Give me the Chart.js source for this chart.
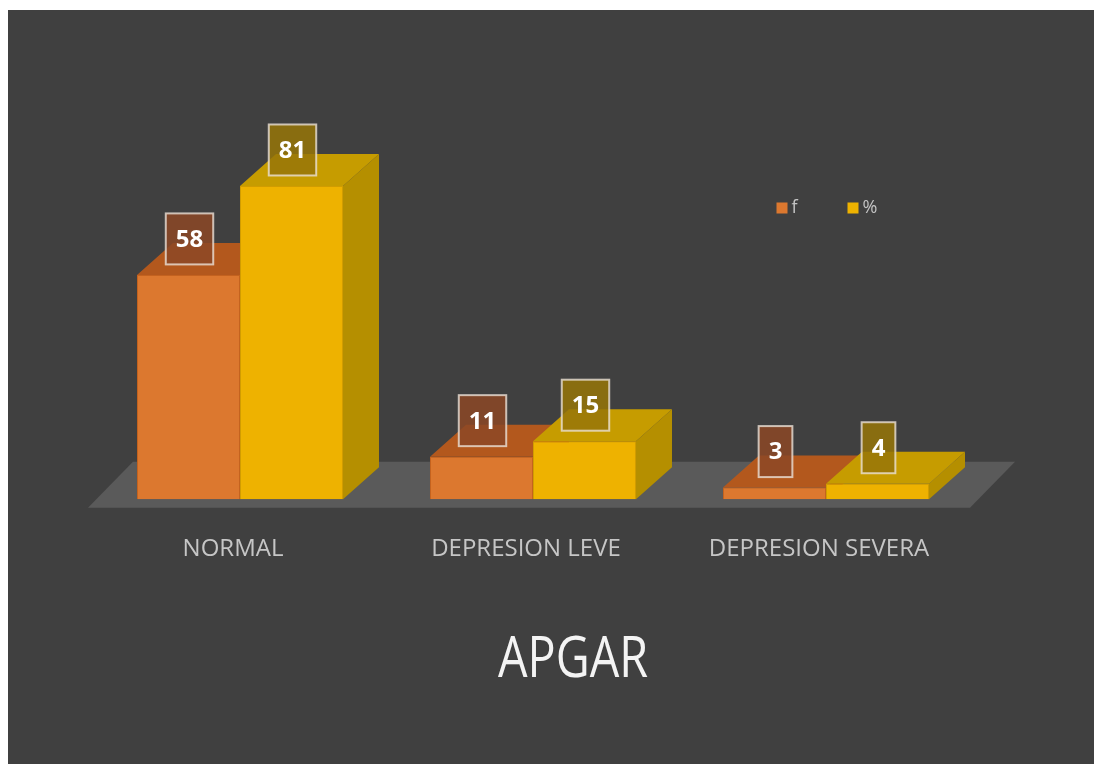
<!DOCTYPE html>
<html>
<head>
<meta charset="utf-8">
<script src="https://cdn.jsdelivr.net/npm/chart.js@4.4.1/dist/chart.umd.min.js"></script>
<style>
    html, body { margin: 0; padding: 0; background: #ffffff; }
    .wrapper { position: absolute; left: 8px; top: 10px; width: 1086px; height: 754px; background: #404040; }
    canvas { display: block; }
</style>
</head>
<body>
<div class="wrapper">
    <canvas id="apgar_chart" width="1086" height="754"></canvas>
</div>
<script>
const categories = ['NORMAL', 'DEPRESION LEVE', 'DEPRESION SEVERA'];
const seriesNames = ['f', '%'];
const freqValues = [58, 11, 3];
const pctValues = [81, 15, 4];
const chartTitle = 'APGAR';

// depth of the fake 3d boxes
const DEPTH = { dx: 36, dy: -32 };

const COLORS = {
    orange: { front: '#dc782f', top: '#b3581d', side: '#a9521b', edge: '#c4621f', box: 'rgba(140, 72, 38, 0.85)' },
    yellow: { front: '#eeb200', top: '#c69c00', side: '#b58f00', edge: '#d19c00', box: 'rgba(150, 118, 8, 0.85)' }
};

const poly = (ctx, pts, fill) => {
    ctx.beginPath();
    ctx.moveTo(pts[0][0], pts[0][1]);
    for (let i = 1; i < pts.length; i++) {
        ctx.lineTo(pts[i][0], pts[i][1]);
    }
    ctx.closePath();
    ctx.fillStyle = fill;
    ctx.fill();
};

// floor slab under the bars
const floorPlugin = {
    id: 'floor',
    beforeDatasetsDraw(chart) {
        const ctx = chart.ctx;
        const xs = chart.scales.x;
        const zero = chart.scales.y.getPixelForValue(0);
        const l = xs.left - 5.5;
        const r = xs.right - 2.5;
        ctx.save();
        poly(ctx, [[l, zero + 8.5], [r, zero + 8.5], [r + 45, zero - 37.5], [l + 45, zero - 37.5]], '#5a5a5a');
        ctx.restore();
    }
};

// chart.js paints the last dataset first, so repaint every bar here
// in dataset order: side + top faces, then the front again
const boxPlugin = {
    id: 'box3d',
    afterDatasetsDraw(chart) {
        const ctx = chart.ctx;
        ctx.save();
        chart.data.datasets.forEach((ds, di) => {
            const c = ds.faceColors;
            chart.getDatasetMeta(di).data.forEach(bar => {
                const { x, y, base, width } = bar.getProps(['x', 'y', 'base', 'width'], true);
                const l = x - width / 2;
                const r = x + width / 2;
                poly(ctx, [[r, y], [r + DEPTH.dx, y + DEPTH.dy], [r + DEPTH.dx, base + DEPTH.dy], [r, base]], c.side);
                poly(ctx, [[l, y], [r, y], [r + DEPTH.dx, y + DEPTH.dy], [l + DEPTH.dx, y + DEPTH.dy]], c.top);
                bar.draw(ctx);
            });
        });
        ctx.restore();
    }
};

// framed value labels above each bar
const valuePlugin = {
    id: 'valueBoxes',
    afterDatasetsDraw(chart) {
        const ctx = chart.ctx;
        ctx.save();
        ctx.font = 'bold 24px "Open Sans", sans-serif';
        ctx.textAlign = 'center';
        ctx.textBaseline = 'middle';
        chart.data.datasets.forEach((ds, di) => {
            const meta = chart.getDatasetMeta(di);
            meta.data.forEach((bar, i) => {
                const { x, y } = bar.getProps(['x', 'y'], true);
                const txt = String(ds.data[i]);
                const w = ctx.measureText(txt).width + 20;
                const h = 51;
                const cx = x + 1;
                const cy = y - 36;
                ctx.fillStyle = ds.faceColors.box;
                ctx.fillRect(cx - w / 2, cy - h / 2, w, h);
                ctx.strokeStyle = 'rgba(235, 225, 215, 0.8)';
                ctx.lineWidth = 2;
                ctx.strokeRect(cx - w / 2, cy - h / 2, w, h);
                ctx.fillStyle = '#ffffff';
                ctx.fillText(txt, cx, cy + 1);
            });
        });
        ctx.restore();
    }
};

// small legend in the upper right of the plot, title under the axis
const extrasPlugin = {
    id: 'extras',
    afterDraw(chart) {
        const ctx = chart.ctx;
        const area = chart.chartArea;
        let lx = area.left + 683;
        const ly = area.top + 95.5;
        ctx.save();
        ctx.font = '18px "Open Sans", sans-serif';
        ctx.textBaseline = 'middle';
        chart.data.datasets.forEach(ds => {
            ctx.fillStyle = ds.backgroundColor;
            ctx.fillRect(lx, ly - 5.5, 11, 11);
            ctx.fillStyle = '#c4c4c4';
            ctx.fillText(ds.label, lx + 15, ly);
            lx += 71;
        });
        ctx.restore();

        // narrow title
        ctx.save();
        ctx.translate((area.left + area.right) / 2 + 40, area.bottom + 162);
        ctx.scale(0.82, 1);
        ctx.font = '57px "Open Sans", sans-serif';
        ctx.textAlign = 'center';
        ctx.textBaseline = 'middle';
        ctx.fillStyle = '#f4f4f4';
        ctx.fillText(chartTitle, 0, 0);
        ctx.restore();
    }
};

const ctxEle = document.getElementById('apgar_chart');

new Chart(ctxEle, {
    type: 'bar',
    data: {
        labels: categories,
        datasets: [{
            label: seriesNames[0],
            data: freqValues,
            backgroundColor: COLORS.orange.front,
            borderColor: COLORS.orange.edge,
            borderWidth: 1,
            faceColors: COLORS.orange
        }, {
            label: seriesNames[1],
            data: pctValues,
            backgroundColor: COLORS.yellow.front,
            borderColor: COLORS.yellow.edge,
            borderWidth: 1,
            faceColors: COLORS.yellow
        }]
    },
    options: {
        responsive: false,
        animation: false,
        layout: {
            padding: { left: 85.5, right: 121.5, top: 102.5, bottom: 164 }
        },
        datasets: {
            bar: {
                categoryPercentage: 0.703,
                barPercentage: 1
            }
        },
        plugins: {
            legend: { display: false },
            tooltip: { enabled: false },
            title: { display: false }
        },
        scales: {
            x: {
                grid: { display: false, drawTicks: false },
                border: { display: false },
                ticks: {
                    color: '#c6c6c6',
                    padding: 36,
                    labelOffset: -7,
                    maxRotation: 0,
                    font: { family: '"Open Sans", sans-serif', size: 24, lineHeight: 1.2 }
                }
            },
            y: {
                display: false,
                min: 0,
                max: 100
            }
        }
    },
    plugins: [floorPlugin, boxPlugin, valuePlugin, extrasPlugin]
});
</script>
</body>
</html>
